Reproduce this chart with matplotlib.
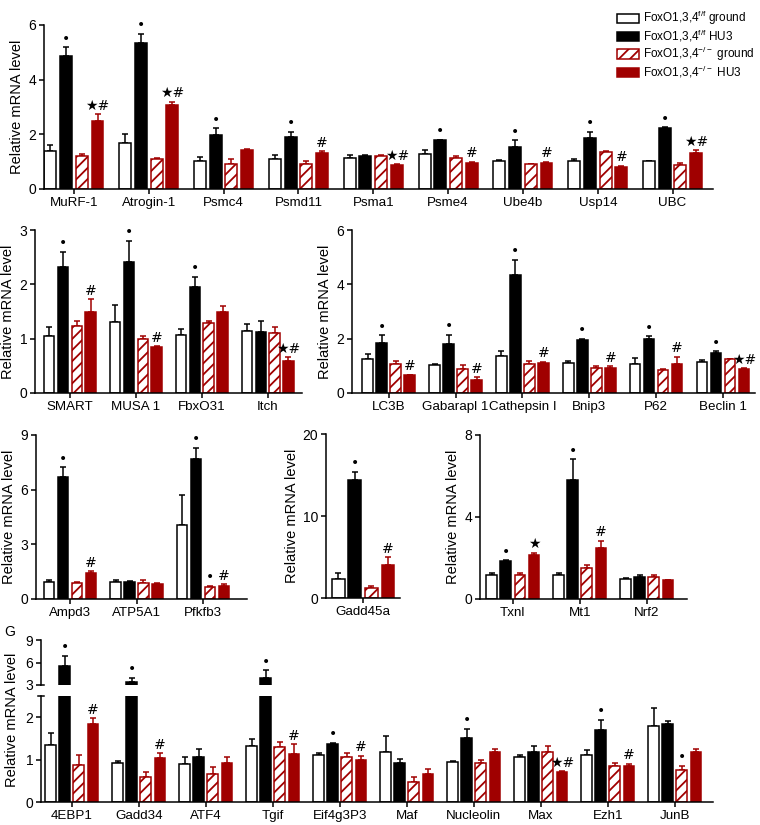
import numpy as np
import matplotlib
matplotlib.use("Agg")
import matplotlib.pyplot as plt
from matplotlib.patches import Patch

plt.rcParams['font.family'] = ['Liberation Sans', 'DejaVu Sans']
plt.rcParams['font.size'] = 10
plt.rcParams['hatch.linewidth'] = 1.3
plt.rcParams['axes.linewidth'] = 1.1

RED = '#a00000'
W, H = 760, 825

# panel A - ubiquitin/proteasome genes
genesA = ['MuRF-1', 'Atrogin-1', 'Psmc4', 'Psmd11', 'Psma1', 'Psme4', 'Ube4b', 'Usp14', 'UBC']
wA = [1.40, 1.67, 1.02, 1.08, 1.12, 1.28, 1.02, 1.02, 1.02]
wA_err = [0.21, 0.33, 0.16, 0.16, 0.12, 0.15, 0.03, 0.08, 0.02]
bA = [4.85, 5.35, 1.97, 1.91, 1.22, 1.79, 1.55, 1.88, 2.24]
bA_err = [0.33, 0.33, 0.25, 0.19, 0.03, 0.02, 0.24, 0.22, 0.02]
hA = [1.22, 1.08, 0.90, 0.92, 1.20, 1.15, 0.91, 1.34, 0.88]
hA_err = [0.05, 0.06, 0.18, 0.10, 0.06, 0.07, 0.02, 0.06, 0.06]
rA = [2.50, 3.07, 1.43, 1.32, 0.88, 0.94, 0.94, 0.82, 1.30]
rA_err = [0.25, 0.12, 0.04, 0.07, 0.03, 0.06, 0.06, 0.03, 0.13]
markA = [['', '•', '', '★#'], ['', '•', '', '★#'], ['', '•', '', ''], ['', '•', '', '#'],
         ['', '', '', '★#'], ['', '•', '', '#'], ['', '•', '', '#'], ['', '•', '', '#'],
         ['', '•', '', '★#']]

# panel B
genesB = ['SMART', 'MUSA 1', 'FbxO31', 'Itch']
wB = [1.05, 1.30, 1.07, 1.15]
wB_err = [0.16, 0.32, 0.11, 0.12]
bB = [2.31, 2.42, 1.95, 1.12]
bB_err = [0.29, 0.38, 0.19, 0.20]
hB = [1.24, 0.99, 1.29, 1.11]
hB_err = [0.09, 0.06, 0.04, 0.10]
rB = [1.50, 0.84, 1.50, 0.58]
rB_err = [0.23, 0.02, 0.11, 0.08]
markB = [['', '•', '', '#'], ['', '•', '', '#'], ['', '•', '', ''], ['', '', '', '★#']]

# panel C - autophagy
genesC = ['LC3B', 'Gabarapl 1', 'Cathepsin I', 'Bnip3', 'P62', 'Beclin 1']
wC = [1.25, 1.03, 1.37, 1.12, 1.07, 1.14]
wC_err = [0.17, 0.02, 0.17, 0.05, 0.22, 0.06]
bC = [1.85, 1.82, 4.34, 1.94, 1.97, 1.48]
bC_err = [0.28, 0.32, 0.56, 0.06, 0.13, 0.07]
hC = [1.08, 0.90, 1.06, 0.92, 0.84, 1.24]
hC_err = [0.10, 0.14, 0.10, 0.07, 0.05, 0.02]
rC = [0.66, 0.49, 1.11, 0.92, 1.06, 0.87]
rC_err = [0.02, 0.10, 0.04, 0.07, 0.27, 0.04]
markC = [['', '•', '', '#'], ['', '•', '', '#'], ['', '•', '', '#'], ['', '•', '', '#'],
         ['', '•', '', '#'], ['', '•', '', '★#']]

# panel D
genesD = ['Ampd3', 'ATP5A1', 'Pfkfb3']
wD = [0.95, 0.91, 4.06]
wD_err = [0.07, 0.13, 1.62]
bD = [6.67, 0.91, 7.68]
bD_err = [0.58, 0.08, 0.62]
hD = [0.89, 0.89, 0.64]
hD_err = [0.04, 0.13, 0.10]
rD = [1.40, 0.82, 0.73]
rD_err = [0.13, 0.05, 0.08]
markD = [['', '•', '', '#'], ['', '', '', ''], ['', '•', '•', '#']]

# panel E
genesE = ['Gadd45a']
wE, wE_err = [2.3], [0.75]
bE, bE_err = [14.4], [1.0]
hE, hE_err = [1.27], [0.25]
rE, rE_err = [4.0], [1.0]
markE = [['', '•', '', '#']]

# panel F
genesF = ['Txnl', 'Mt1', 'Nrf2']
wF = [1.17, 1.17, 1.00]
wF_err = [0.11, 0.08, 0.02]
bF = [1.87, 5.80, 1.09]
bF_err = [0.03, 1.03, 0.08]
hF = [1.17, 1.53, 1.09]
hF_err = [0.10, 0.13, 0.08]
rF = [2.15, 2.47, 0.93]
rF_err = [0.11, 0.38, 0.02]
markF = [['', '•', '', '★'], ['', '•', '', '#'], ['', '', '', '']]

# panel G (broken axis)
genesG = ['4EBP1', 'Gadd34', 'ATF4', 'Tgif', 'Eif4g3P3', 'Maf', 'Nucleolin', 'Max', 'Ezh1', 'JunB']
wG = [1.35, 0.92, 0.90, 1.33, 1.11, 1.19, 0.94, 1.06, 1.11, 1.80]
wG_err = [0.27, 0.04, 0.16, 0.16, 0.04, 0.37, 0.03, 0.04, 0.12, 0.41]
bG = [5.6, 3.45, 1.06, 4.0, 1.37, 0.92, 1.52, 1.19, 1.69, 1.84]
bG_err = [1.3, 0.55, 0.19, 1.0, 0.03, 0.09, 0.21, 0.14, 0.25, 0.06]
hG = [0.88, 0.60, 0.67, 1.29, 1.07, 0.46, 0.93, 1.17, 0.86, 0.75]
hG_err = [0.23, 0.11, 0.15, 0.13, 0.08, 0.12, 0.05, 0.14, 0.07, 0.11]
rG = [1.84, 1.04, 0.92, 1.13, 1.00, 0.66, 1.18, 0.70, 0.86, 1.17]
rG_err = [0.14, 0.11, 0.13, 0.24, 0.09, 0.12, 0.07, 0.03, 0.04, 0.08]
markG = [['', '•', '', '#'], ['', '•', '', '#'], ['', '', '', ''], ['', '•', '', '#'],
         ['', '•', '', '#'], ['', '', '', ''], ['', '•', '', ''], ['', '', '', '★#'],
         ['', '•', '', '#'], ['', '', '•', '']]

labels = [r'FoxO1,3,4$^{\mathregular{f/f}}$ ground', r'FoxO1,3,4$^{\mathregular{f/f}}$ HU3',
          'FoxO1,3,4$^{\\mathregular{\u2212/\u2212}}$ ground',
          'FoxO1,3,4$^{\\mathregular{\u2212/\u2212}}$ HU3']

offsets = [-0.315, -0.105, 0.105, 0.315]
styles = [dict(facecolor='white', edgecolor='black', hatch=None),
          dict(facecolor='black', edgecolor='black', hatch=None),
          dict(facecolor='white', edgecolor=RED, hatch='///'),
          dict(facecolor=RED, edgecolor=RED, hatch=None)]
ecols = ['black', 'black', RED, RED]


def rect(l, r, t, b):
    return [l / W, 1 - b / H, (r - l) / W, (b - t) / H]


def style_ax(ax):
    for s in ['top', 'right']:
        ax.spines[s].set_visible(False)
    ax.tick_params(direction='out', length=3.5, width=1.1, labelsize=10, pad=2)
    ax.tick_params(axis='x', labelsize=9.6)


def draw_bars(ax, genes, series, errs, marks, mark_limit=None):
    x = np.arange(len(genes))
    for k in range(4):
        st = styles[k]
        ax.bar(x + offsets[k], series[k], width=0.16, facecolor=st['facecolor'],
               edgecolor=st['edgecolor'], hatch=st['hatch'], linewidth=1.1, zorder=2)
        ax.errorbar(x + offsets[k], series[k], yerr=[np.zeros(len(genes)), errs[k]],
                    fmt='none', ecolor=ecols[k], elinewidth=1.1, capsize=2.2,
                    capthick=1.1, zorder=1)
        for i in range(len(genes)):
            m = marks[i][k]
            top = series[k][i] + errs[k][i]
            if not m:
                continue
            if mark_limit is not None and not mark_limit(top):
                continue
            ax.annotate(m, (x[i] + offsets[k], top), xytext=(0, 1),
                        textcoords='offset points', ha='center', va='bottom',
                        fontsize=10, family=['DejaVu Sans'], color='black')
    return x


def panel(box, genes, w, we, b, be, h, he, r, re, marks, xlim, ylim, yticks):
    ax = fig.add_axes(rect(*box))
    x = draw_bars(ax, genes, [w, b, h, r], [we, be, he, re], marks)
    ax.set_xlim(*xlim)
    ax.set_ylim(*ylim)
    ax.set_yticks(yticks)
    ax.set_xticks(x)
    ax.set_xticklabels(genes)
    ax.set_ylabel('Relative mRNA level', labelpad=3, fontsize=10.5)
    style_ax(ax)
    return ax


fig = plt.figure(figsize=(W / 100, H / 100), dpi=100)

panel((44, 713, 25, 189), genesA, wA, wA_err, bA, bA_err, hA, hA_err, rA, rA_err,
      markA, (-0.40, 8.54), (0, 6), [0, 2, 4, 6])
panel((35, 302, 230, 393), genesB, wB, wB_err, bB, bB_err, hB, hB_err, rB, rB_err,
      markB, (-0.53, 3.52), (0, 3), [0, 1, 2, 3])
panel((352, 755, 230, 393), genesC, wC, wC_err, bC, bC_err, hC, hC_err, rC, rC_err,
      markC, (-0.55, 5.48), (0, 6), [0, 2, 4, 6])
panel((36, 247, 435, 599), genesD, wD, wD_err, bD, bD_err, hD, hD_err, rD, rD_err,
      markD, (-0.51, 2.66), (0, 9), [0, 3, 6, 9])
panel((326, 400, 434, 598), genesE, wE, wE_err, bE, bE_err, hE, hE_err, rE, rE_err,
      markE, (-0.47, 0.47), (0, 20), [0, 10, 20])
panel((480, 687, 435, 599), genesF, wF, wF_err, bF, bF_err, hF, hF_err, rF, rF_err,
      markF, (-0.49, 2.6), (0, 8), [0, 4, 8])

# panel G with a broken y axis
axGu = fig.add_axes(rect(41, 713, 640, 685))
axGl = fig.add_axes(rect(41, 713, 696, 802))
draw_bars(axGu, genesG, [wG, bG, hG, rG], [wG_err, bG_err, hG_err, rG_err], markG,
          mark_limit=lambda t: t > 2.5)
xg = draw_bars(axGl, genesG, [wG, bG, hG, rG], [wG_err, bG_err, hG_err, rG_err], markG,
               mark_limit=lambda t: t <= 2.5)
for a in (axGu, axGl):
    a.set_xlim(-0.46, 9.57)
    style_ax(a)
axGu.set_ylim(3, 9)
axGu.set_yticks([3, 6, 9])
axGu.spines['bottom'].set_visible(False)
axGu.set_xticks([])
axGl.set_ylim(0, 2.5)
axGl.set_yticks([0, 1, 2])
axGl.set_xticks(xg)
axGl.set_xticklabels(genesG)
# break marks
axGl.plot([-0.46 - 0.04, -0.46 + 0.04], [2.5, 2.5], color='black', lw=1.1, clip_on=False)
axGu.plot([-0.46, -0.46 + 0.05], [3, 3], color='black', lw=1.1, clip_on=False)
fig.text(12 / W, 1 - 720 / H, 'Relative mRNA level', rotation=90, ha='center',
         va='center', fontsize=10.5)
fig.text(4 / W, 1 - 632 / H, 'G', fontsize=10, ha='left', va='center')

handles = [Patch(facecolor=s['facecolor'], edgecolor=s['edgecolor'], hatch=s['hatch'],
                 linewidth=1.1) for s in styles]
fig.legend(handles, labels, loc='upper left', bbox_to_anchor=(609 / W, 1 - 1 / H),
           frameon=False, fontsize=8.5, handlelength=1.8, handleheight=0.85,
           handletextpad=0.4, labelspacing=0.05, borderpad=0.2)

fig.savefig('out.png', dpi=100)
